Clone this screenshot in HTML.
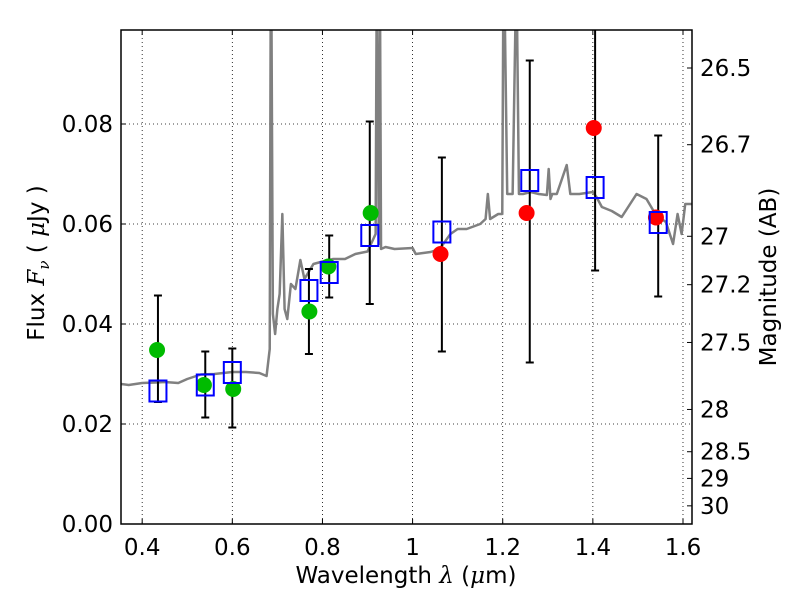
<!DOCTYPE html>
<html><head><meta charset="utf-8"><style>
body{margin:0;background:#fff}
svg{display:block;font-family:"DejaVu Sans","Liberation Sans",sans-serif}
</style></head><body>
<svg id="chart" width="800" height="600" viewBox="0 0 800 600"></svg>
<script>
const specX=[0.353,0.37,0.40,0.43,0.45,0.48,0.50,0.53,0.56,0.60,0.63,0.66,0.676,0.683,0.685,0.687,0.690,0.695,0.70,0.705,0.711,0.716,0.722,0.73,0.74,0.751,0.76,0.78,0.80,0.824,0.85,0.873,0.90,0.918,0.920,0.922,0.925,0.928,0.930,0.94,0.96,1.0,1.007,1.04,1.06,1.084,1.10,1.12,1.15,1.162,1.167,1.172,1.19,1.199,1.201,1.205,1.21,1.222,1.228,1.232,1.236,1.245,1.262,1.28,1.298,1.302,1.306,1.31,1.32,1.342,1.35,1.37,1.40,1.408,1.42,1.442,1.464,1.497,1.519,1.54,1.562,1.578,1.588,1.597,1.605,1.62];
const specY=[0.028,0.0278,0.0282,0.0283,0.0284,0.0282,0.029,0.0299,0.030,0.0304,0.0304,0.0302,0.0296,0.035,0.099,0.099,0.042,0.038,0.043,0.046,0.062,0.043,0.041,0.048,0.047,0.0528,0.049,0.052,0.0525,0.053,0.053,0.054,0.0545,0.058,0.099,0.099,0.056,0.099,0.055,0.0554,0.055,0.0552,0.054,0.0544,0.055,0.058,0.059,0.059,0.060,0.061,0.066,0.061,0.062,0.062,0.099,0.099,0.066,0.066,0.099,0.099,0.066,0.066,0.0664,0.066,0.0658,0.071,0.065,0.066,0.066,0.0718,0.066,0.066,0.0664,0.0654,0.0634,0.0626,0.0614,0.066,0.065,0.0618,0.0604,0.056,0.062,0.058,0.064,0.064];
const bandX=[0.435,0.54,0.60,0.77,0.815,0.905,1.065,1.26,1.405,1.545];
const modelY=[0.0266,0.0278,0.0303,0.0467,0.0503,0.0577,0.0584,0.0687,0.0673,0.0603];
const errLo=[0.0244,0.0213,0.0193,0.034,0.0453,0.044,0.0345,0.0323,0.0507,0.0455];
const errHi=[0.0457,0.0345,0.0351,0.051,0.0577,0.0805,0.0733,0.0927,0.105,0.0777];
const greenX=[0.433,0.537,0.602,0.771,0.813,0.907];
const greenY=[0.0348,0.0278,0.027,0.0425,0.0515,0.0622];
const redX=[1.062,1.253,1.402,1.54];
const redY=[0.054,0.0622,0.0792,0.0613];
const xTicks=[0.4,0.6,0.8,1.0,1.2,1.4,1.6];
const xTickLabels=["0.4","0.6","0.8","1","1.2","1.4","1.6"];
const yTicks=[0,0.02,0.04,0.06,0.08];
const yTickLabels=["0.00","0.02","0.04","0.06","0.08"];
const magTicks=[26.5,26.7,27,27.2,27.5,28,28.5,29,30];
const magLabels=["26.5","26.7","27","27.2","27.5","28","28.5","29","30"];

const L=121,R=692,T=30,B=524,X0=0.353,X1=1.62,Y0=0,Y1=0.0988;
const sx=v=>L+(v-X0)/(X1-X0)*(R-L);
const sy=v=>B-(v-Y0)/(Y1-Y0)*(B-T);
const NS="http://www.w3.org/2000/svg";
const svg=document.getElementById('chart');
function mk(tag,attrs,parent){const e=document.createElementNS(NS,tag);for(const k in attrs)e.setAttribute(k,attrs[k]);(parent||svg).appendChild(e);return e;}
const defs=mk('defs',{});const cp=mk('clipPath',{id:'clip'},defs);mk('rect',{x:L,y:T,width:R-L,height:B-T},cp);
const FS=23;
xTicks.forEach((v,i)=>{
 const g=mk('line',{x1:sx(v),x2:sx(v),y1:T,y2:B,stroke:'#000','stroke-width':0.8,'stroke-dasharray':'1,3'});
 
 
 const t=mk('text',{x:sx(v),y:B+31,'font-size':FS,'text-anchor':'middle'});t.textContent=xTickLabels[i];
 
 
 mk('line',{x1:sx(v),x2:sx(v),y1:B,y2:B-5,stroke:'#000'});
 mk('line',{x1:sx(v),x2:sx(v),y1:T,y2:T+5,stroke:'#000'});
});
yTicks.forEach((v,i)=>{
 if(v>0){const g=mk('line',{x1:L,x2:R,y1:sy(v),y2:sy(v),stroke:'#000','stroke-width':0.8,'stroke-dasharray':'1,3'});
 
 }
 const t=mk('text',{x:L-8,y:sy(v)+8,'font-size':FS,'text-anchor':'end'});t.textContent=yTickLabels[i];
 
 
 mk('line',{x1:L,x2:L+5,y1:sy(v),y2:sy(v),stroke:'#000'});
});
magTicks.forEach((m,i)=>{
 const f=Math.pow(10,(23.9-m)/2.5);const y=sy(f);
 mk('line',{x1:R,x2:R-5,y1:y,y2:y,stroke:'#000'});
 const t=mk('text',{x:R+8,y:y+8,'font-size':FS});t.textContent=magLabels[i];
 
 
});

const g=mk('g',{'clip-path':'url(#clip)'});
const sp=mk('polyline',{points:specX.map((x,i)=>sx(x)+','+sy(specY[i])).join(' '),fill:'none',stroke:'#808080','stroke-width':2.5,'stroke-linejoin':'round'},g);



bandX.forEach((x,i)=>{
 const hi=Math.min(errHi[i],0.1);
 const e=mk('line',{x1:sx(x),x2:sx(x),y1:sy(errLo[i]),y2:sy(hi),stroke:'#000','stroke-width':2},g);
 
 
 mk('line',{x1:sx(x)-4,x2:sx(x)+4,y1:sy(errLo[i]),y2:sy(errLo[i]),stroke:'#000','stroke-width':2},g);
 if(errHi[i]<0.0988)mk('line',{x1:sx(x)-4,x2:sx(x)+4,y1:sy(errHi[i]),y2:sy(errHi[i]),stroke:'#000','stroke-width':2},g);
});
greenX.forEach((x,i)=>{const c=mk('circle',{cx:sx(x),cy:sy(greenY[i]),r:8,fill:'#00bb00'},g);
 
 });
redX.forEach((x,i)=>{const c=mk('circle',{cx:sx(x),cy:sy(redY[i]),r:8,fill:'#ff0000'},g);
 
 });
bandX.forEach((x,i)=>{const r=mk('rect',{x:sx(x)-8.5,y:sy(modelY[i])-10.5,width:17,height:21,fill:'none',stroke:'#0000ff','stroke-width':2},g);
 
 });

const fr=mk('rect',{x:L,y:T,width:R-L,height:B-T,fill:'none',stroke:'#000','stroke-width':1.5});


</script>
<svg style="position:absolute;left:0;top:0" width="800" height="600">
<text x="406" y="583" font-size="23" text-anchor="middle" font-family="DejaVu Sans,sans-serif">Wavelength  <tspan font-style="italic" font-family="DejaVu Serif,serif">λ</tspan> (<tspan font-style="italic" font-family="DejaVu Serif,serif">μ</tspan>m)</text>
<text transform="translate(44,263) rotate(-90)" font-size="23" text-anchor="middle" font-family="DejaVu Sans,sans-serif">Flux  <tspan font-style="italic" font-family="DejaVu Serif,serif">F</tspan><tspan font-style="italic" font-family="DejaVu Serif,serif" font-size="15" dy="5">ν</tspan><tspan dy="-5">  (  </tspan><tspan font-style="italic" font-family="DejaVu Serif,serif">μ</tspan>Jy )</text>
<text transform="translate(776,277) rotate(-90)" font-size="23" text-anchor="middle" font-family="DejaVu Sans,sans-serif">Magnitude (AB)</text>
</svg>
</body></html>
